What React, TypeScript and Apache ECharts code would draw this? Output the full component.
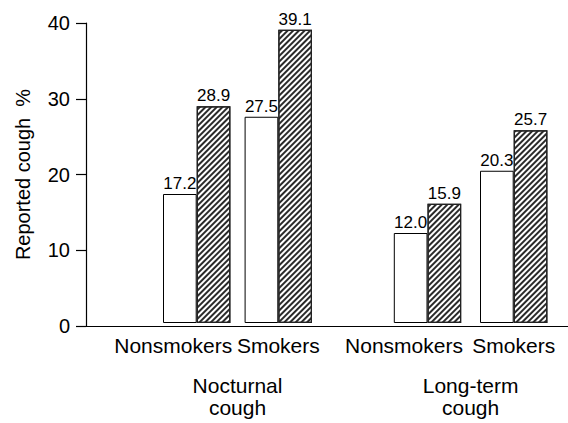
import React, { useEffect, useRef } from "react";
import * as echarts from "echarts";

const groupNames = ["Nocturnal\ncough", "Long-term\ncough"];
const categories = ["Nonsmokers", "Smokers"];
const nocturnalPlain = [17.2, 27.5];
const nocturnalHatched = [28.9, 39.1];
const longTermPlain = [12.0, 20.3];
const longTermHatched = [15.9, 25.7];
const yAxisTitle = "Reported cough  %";

const FONT = "'Liberation Sans', Arial, Helvetica, sans-serif";

export default function App() {
  const ref = useRef<HTMLDivElement>(null);
  useEffect(() => {
    if (!ref.current) return;
    const chart = echarts.init(ref.current, null, { renderer: "svg" });
    const top = 23;
    const height = 303;
    const grids = [
      { left: 86, top, height, right: 0 },
      { left: 155.9, top, height, width: 163.2 },
      { left: 384.4, top, height, width: 172.4 },
    ];
    const hatchDecal = {
      symbol: "rect",
      symbolSize: 1,
      dashArrayX: [1, 0],
      dashArrayY: [2, 2],
      rotation: -Math.PI / 4,
      color: "#2a2a2a",
    };
    const catData = categories.map((c, i) =>
      i === 0
        ? { value: c, textStyle: { padding: [0, 47, 0, 0] } }
        : { value: c }
    );
    const groupXAxis = (gi: number, name: string) => ({
      type: "category",
      gridIndex: gi,
      data: catData,
      axisLine: { show: false },
      axisTick: { show: false },
      axisLabel: {
        interval: 0,
        fontSize: 21,
        color: "#000",
        fontFamily: FONT,
        margin: 12,
      },
      name,
      nameLocation: "middle",
      nameGap: 51,
      nameTextStyle: {
        fontSize: 21,
        lineHeight: 22,
        color: "#000",
        fontFamily: FONT,
      },
    });
    const hiddenY = (gi: number) => ({
      type: "value",
      gridIndex: gi,
      min: 0,
      max: 40,
      interval: 10,
      show: false,
      splitLine: { show: false },
    });
    const valueLabel = {
      show: true,
      position: "top",
      distance: 2,
      fontSize: 17,
      color: "#000",
      fontFamily: FONT,
      formatter: (p: any) => Number(p.value).toFixed(1),
    };
    const plainStyle = { color: "#fff", borderColor: "#000", borderWidth: 1 };
    const hatchStyle = {
      color: "#fff",
      borderColor: "#222",
      borderWidth: 1.2,
      decal: hatchDecal,
    };
    const barSeries = (gi: number, data: number[], hatched: boolean) => ({
      type: "bar",
      name: hatched ? "hatched" : "plain",
      xAxisIndex: gi,
      yAxisIndex: gi,
      data,
      barWidth: 33.7,
      barGap: "0%",
      itemStyle: hatched ? hatchStyle : plainStyle,
      label: valueLabel,
    });
    chart.setOption({
      animation: false,
      backgroundColor: "#fff",
      grid: grids,
      xAxis: [
        {
          type: "category",
          gridIndex: 0,
          data: [""],
          axisLine: { show: true, lineStyle: { color: "#000", width: 1.2 } },
          axisTick: { show: false },
          axisLabel: { show: false },
        },
        groupXAxis(1, groupNames[0]),
        groupXAxis(2, groupNames[1]),
      ],
      yAxis: [
        {
          type: "value",
          gridIndex: 0,
          min: 0,
          max: 40,
          interval: 10,
          axisLine: { show: true, lineStyle: { color: "#000", width: 1.2 } },
          axisTick: {
            show: true,
            inside: false,
            length: 10,
            lineStyle: { color: "#000", width: 1.2 },
          },
          axisLabel: {
            fontSize: 20,
            color: "#000",
            fontFamily: FONT,
            margin: 16,
          },
          splitLine: { show: false },
          name: yAxisTitle,
          nameLocation: "middle",
          nameGap: 53,
          nameTextStyle: { fontSize: 20, color: "#000", fontFamily: FONT },
        },
        hiddenY(1),
        hiddenY(2),
      ],
      series: [
        barSeries(1, nocturnalPlain, false),
        barSeries(1, nocturnalHatched, true),
        barSeries(2, longTermPlain, false),
        barSeries(2, longTermHatched, true),
      ],
    });
    return () => chart.dispose();
  }, []);
  return (
    <div
      ref={ref}
      style={{ position: "fixed", left: 0, top: 0, width: 568, height: 423 }}
    />
  );
}
